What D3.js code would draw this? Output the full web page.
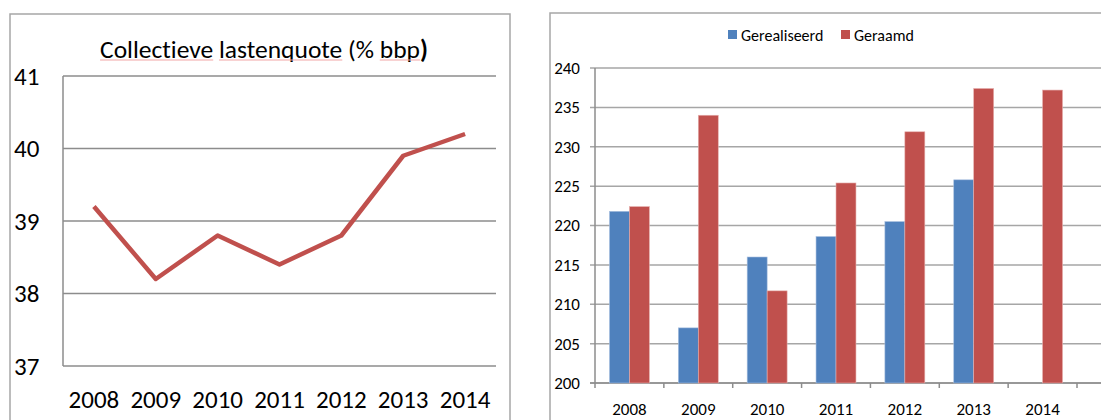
<!DOCTYPE html>
<html>
<head>
<meta charset="utf-8">
<script src="https://cdn.jsdelivr.net/npm/d3@7"></script>
<style>
  body { margin: 0; background: #fff; }
  svg { display: block; font-family: Carlito, Lato, "Open Sans", sans-serif; font-variant-ligatures: none; }
</style>
</head>
<body>
<svg id="chart" width="1101" height="420"></svg>
<script>
// Left chart data
const years = ['2008', '2009', '2010', '2011', '2012', '2013', '2014'];
const lastenquote = [39.2, 38.2, 38.8, 38.4, 38.8, 39.9, 40.2];
const leftTicks = [37, 38, 39, 40, 41];

// Right chart data
const barSeries = ['Gerealiseerd', 'Geraamd'];
const gerealiseerd = [221.8, 207.0, 216.0, 218.6, 220.5, 225.8, null];
const geraamd = [222.4, 234.0, 211.7, 225.4, 231.9, 237.4, 237.2];
const rightTicks = [200, 205, 210, 215, 220, 225, 230, 235, 240];

const svg = d3.select("#chart");

// ---- Left chart: line ----
svg.append("rect")
    .attr("x", 10).attr("y", 14).attr("width", 500).attr("height", 420)
    .attr("fill", "none").attr("stroke", "#a6a6a6").attr("stroke-width", 1.5);

const lx = d3.scaleBand().domain(years).range([63, 496]);
const ly = d3.scaleLinear().domain([37, 41]).range([366, 76]);

const left = svg.append("g");

left.selectAll(".grid").data(leftTicks).enter().append("line")
    .attr("x1", 63).attr("x2", 496)
    .attr("y1", d => ly(d)).attr("y2", d => ly(d))
    .attr("stroke", "#8c8c8c").attr("stroke-width", 1.5);

left.append("line")
    .attr("x1", 63).attr("x2", 63).attr("y1", ly(41)).attr("y2", ly(37))
    .attr("stroke", "#8c8c8c").attr("stroke-width", 1.5);

left.selectAll(".ylab").data(leftTicks).enter().append("text")
    .attr("x", 14).attr("y", d => ly(d)).attr("dy", "0.35em")
    .attr("font-size", 25).attr("fill", "#000")
    .text(d => d);

left.selectAll(".xlab").data(years).enter().append("text")
    .attr("x", d => lx(d) + lx.bandwidth() / 2).attr("y", 408)
    .attr("text-anchor", "middle")
    .attr("font-size", 25).attr("fill", "#000")
    .text(d => d);

const line = d3.line()
    .x((d, i) => lx(years[i]) + lx.bandwidth() / 2)
    .y(d => ly(d));

left.append("path")
    .datum(lastenquote)
    .attr("d", line)
    .attr("fill", "none").attr("stroke", "#c0504d")
    .attr("stroke-width", 4.5).attr("stroke-linejoin", "round");

// title with spell-check underlines
const title = left.append("text")
    .attr("x", 264).attr("y", 58).attr("text-anchor", "middle")
    .attr("font-size", 25.5).attr("fill", "#000");
title.append("tspan").text("Collectieve lastenquote (% bbp");
title.append("tspan").attr("font-weight", "bold").text(")");

const node = title.node();
[["Collectieve", 0], ["lastenquote", 12], ["bbp", 27]].forEach(([w, i]) => {
    const x0 = node.getStartPositionOfChar(i).x;
    const x1 = node.getEndPositionOfChar(i + w.length - 1).x;
    left.append("line")
        .attr("x1", x0).attr("x2", x1).attr("y1", 60).attr("y2", 60)
        .attr("stroke", "#f2a5a5").attr("stroke-width", 1);
});

// ---- Right chart: bars ----
svg.append("rect")
    .attr("x", 550).attr("y", 13).attr("width", 600).attr("height", 420)
    .attr("fill", "none").attr("stroke", "#a6a6a6").attr("stroke-width", 1.5);

const bx = d3.scaleBand().domain(years).range([595, 1077]).paddingInner(0.42).paddingOuter(0.21);
const bsub = d3.scaleBand().domain(barSeries).range([0, bx.bandwidth()]);
const by = d3.scaleLinear().domain([200, 240]).range([383, 68]);
const colors = { 'Gerealiseerd': '#4f81bd', 'Geraamd': '#c0504d' };

const right = svg.append("g");
const step = bx.step();

right.selectAll(".grid").data(rightTicks).enter().append("line")
    .attr("x1", 590).attr("x2", 1101)
    .attr("y1", d => by(d)).attr("y2", d => by(d))
    .attr("stroke", "#a6a6a6").attr("stroke-width", 1.5);

right.append("line")
    .attr("x1", 595).attr("x2", 595).attr("y1", by(240)).attr("y2", by(200))
    .attr("stroke", "#8c8c8c").attr("stroke-width", 1.5);

right.append("line")
    .attr("x1", 590).attr("x2", 1101).attr("y1", by(200)).attr("y2", by(200))
    .attr("stroke", "#8c8c8c").attr("stroke-width", 1.5);

right.selectAll(".xtick").data(years.concat(["end"])).enter().append("line")
    .attr("x1", (d, i) => 595 + i * step).attr("x2", (d, i) => 595 + i * step)
    .attr("y1", by(200)).attr("y2", by(200) + 5)
    .attr("stroke", "#8c8c8c").attr("stroke-width", 1.5);

right.selectAll(".ylab").data(rightTicks).enter().append("text")
    .attr("x", 580).attr("y", d => by(d)).attr("dy", "0.35em")
    .attr("text-anchor", "end").attr("font-size", 17).attr("fill", "#000")
    .text(d => d);

right.selectAll(".xlab").data(years).enter().append("text")
    .attr("x", d => bx(d) + bx.bandwidth() / 2).attr("y", 415)
    .attr("text-anchor", "middle").attr("font-size", 17).attr("fill", "#000")
    .text(d => d);

const seriesData = { 'Gerealiseerd': gerealiseerd, 'Geraamd': geraamd };
barSeries.forEach(s => {
    right.selectAll(".bar-" + s)
        .data(seriesData[s].map((v, i) => ({ year: years[i], value: v })).filter(d => d.value != null))
        .enter().append("rect")
        .attr("x", d => bx(d.year) + bsub(s))
        .attr("width", bsub.bandwidth())
        .attr("y", d => by(d.value))
        .attr("height", d => by(200) - by(d.value))
        .attr("fill", colors[s])
        .attr("stroke", s === 'Geraamd' ? "#e6b0ae" : "#a9c0e0").attr("stroke-width", 0.6);
});

// legend
const legendX = [728, 841];
barSeries.forEach((s, i) => {
    right.append("rect")
        .attr("x", legendX[i]).attr("y", 30).attr("width", 9).attr("height", 9)
        .attr("fill", colors[s]);
    right.append("text")
        .attr("x", legendX[i] + 13).attr("y", 35).attr("dy", "0.35em")
        .attr("font-size", 16).attr("fill", "#000")
        .text(s);
});
</script>
</body>
</html>
